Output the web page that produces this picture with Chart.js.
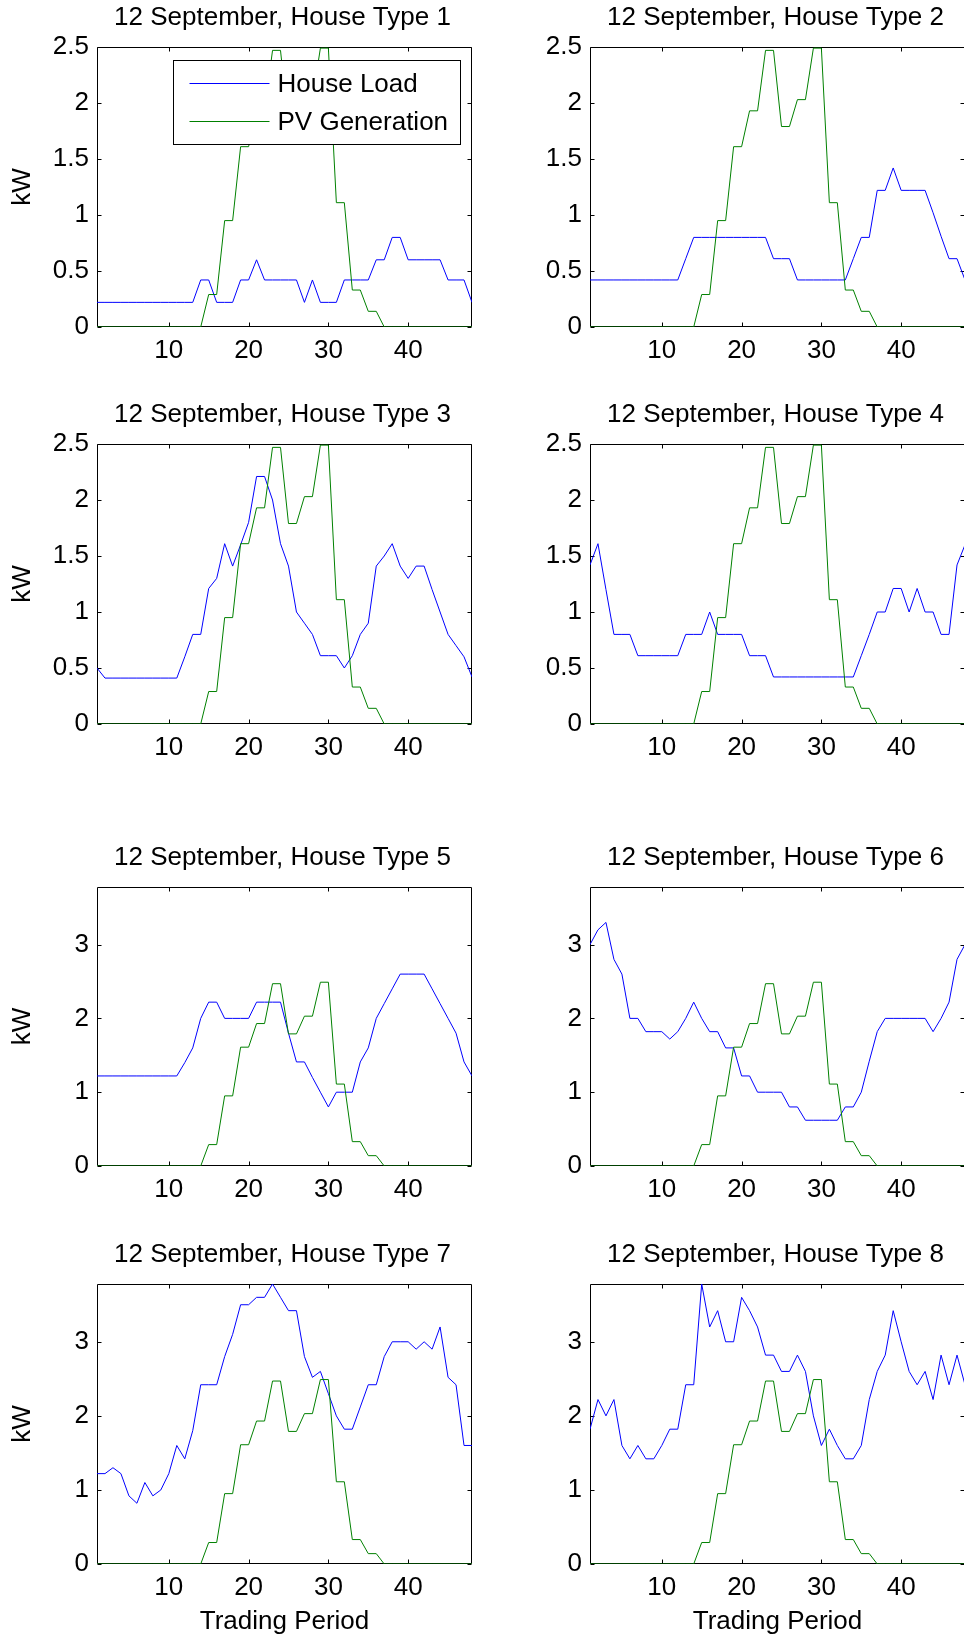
<!DOCTYPE html>
<html>
<head>
<meta charset="utf-8">
<script src="https://cdn.jsdelivr.net/npm/chart.js@4/dist/chart.umd.min.js"></script>
<style>
html, body { margin: 0; padding: 0; background: #fff; overflow: hidden; }
#wrap { position: relative; width: 964px; height: 1638px; overflow: hidden; background: #fff; }
#wrap canvas { position: absolute; }
</style>
</head>
<body>
<div id="wrap"></div>
<script>
// ---------------- DATA ----------------
const tradingPeriods = [1,2,3,4,5,6,7,8,9,10,11,12,13,14,15,16,17,18,19,20,21,22,23,24,
  25,26,27,28,29,30,31,32,33,34,35,36,37,38,39,40,41,42,43,44,45,46,47,48];

const pvGeneration = [0,0,0,0,0,0,0,0,0,0,0,0,0,0,0.29,0.29,0.95,0.95,1.61,1.61,1.93,1.93,2.47,2.47,
  1.79,1.79,2.03,2.03,2.49,2.49,1.11,1.11,0.33,0.33,0.14,0.14,0,0,0,0,0,0,0,0,0,0,0,0];

const houseLoad1 = [0.22,0.22,0.22,0.22,0.22,0.22,0.22,0.22,0.22,0.22,0.22,0.22,0.22,0.42,0.42,0.22,0.22,0.22,0.42,0.42,0.6,0.42,0.42,0.42,
  0.42,0.42,0.22,0.42,0.22,0.22,0.22,0.42,0.42,0.42,0.42,0.6,0.6,0.8,0.8,0.6,0.6,0.6,0.6,0.6,0.42,0.42,0.42,0.22];
const houseLoad2 = [0.42,0.42,0.42,0.42,0.42,0.42,0.42,0.42,0.42,0.42,0.42,0.42,0.61,0.8,0.8,0.8,0.8,0.8,0.8,0.8,0.8,0.8,0.8,0.61,
  0.61,0.61,0.42,0.42,0.42,0.42,0.42,0.42,0.42,0.61,0.8,0.8,1.22,1.22,1.42,1.22,1.22,1.22,1.22,1.02,0.81,0.61,0.61,0.42];
const houseLoad3 = [0.5,0.41,0.41,0.41,0.41,0.41,0.41,0.41,0.41,0.41,0.41,0.6,0.8,0.8,1.21,1.3,1.61,1.41,1.6,1.8,2.21,2.21,2.0,1.61,
  1.41,1.0,0.9,0.8,0.61,0.61,0.61,0.5,0.61,0.8,0.9,1.41,1.5,1.61,1.41,1.3,1.41,1.41,1.2,1.0,0.8,0.7,0.6,0.42];
const houseLoad4 = [1.42,1.61,1.2,0.8,0.8,0.8,0.61,0.61,0.61,0.61,0.61,0.61,0.8,0.8,0.8,1.0,0.8,0.8,0.8,0.8,0.61,0.61,0.61,0.42,
  0.42,0.42,0.42,0.42,0.42,0.42,0.42,0.42,0.42,0.42,0.61,0.8,1.0,1.0,1.21,1.21,1.0,1.21,1.0,1.0,0.8,0.8,1.42,1.6];
const houseLoad5 = [1.22,1.22,1.22,1.22,1.22,1.22,1.22,1.22,1.22,1.22,1.22,1.4,1.6,2.0,2.22,2.22,2.0,2.0,2.0,2.0,2.22,2.22,2.22,2.22,
  1.8,1.41,1.41,1.2,1.0,0.8,1.0,1.0,1.0,1.41,1.6,2.0,2.2,2.4,2.6,2.6,2.6,2.6,2.4,2.2,2.0,1.8,1.41,1.22];
const houseLoad6 = [3.0,3.2,3.3,2.8,2.6,2.0,2.0,1.82,1.82,1.82,1.72,1.82,2.0,2.22,2.0,1.82,1.82,1.6,1.6,1.22,1.22,1.0,1.0,1.0,
  1.0,0.8,0.8,0.62,0.62,0.62,0.62,0.62,0.8,0.8,1.0,1.42,1.82,2.0,2.0,2.0,2.0,2.0,2.0,1.82,2.0,2.22,2.8,3.0];
const houseLoad7 = [1.22,1.22,1.3,1.22,0.92,0.82,1.1,0.92,1.0,1.22,1.6,1.42,1.8,2.42,2.42,2.42,2.8,3.1,3.5,3.5,3.6,3.6,3.78,3.6,
  3.42,3.42,2.8,2.52,2.6,2.3,2.0,1.82,1.82,2.12,2.42,2.42,2.8,3.0,3.0,3.0,2.9,3.0,2.9,3.2,2.52,2.42,1.6,1.6];
const houseLoad8 = [1.82,2.22,2.0,2.22,1.6,1.42,1.6,1.42,1.42,1.6,1.82,1.82,2.42,2.42,3.78,3.2,3.42,3.0,3.0,3.6,3.42,3.2,2.82,2.82,
  2.6,2.6,2.82,2.6,2.0,1.6,1.82,1.6,1.42,1.42,1.6,2.22,2.6,2.82,3.42,3.0,2.6,2.42,2.6,2.22,2.82,2.42,2.82,2.42];

const houseLoads = [houseLoad1, houseLoad2, houseLoad3, houseLoad4, houseLoad5, houseLoad6, houseLoad7, houseLoad8];
const panelTitles = ['12 September, House Type 1','12 September, House Type 2','12 September, House Type 3','12 September, House Type 4',
  '12 September, House Type 5','12 September, House Type 6','12 September, House Type 7','12 September, House Type 8'];
const seriesLabels = ['House Load', 'PV Generation'];
const xTickValues = [10, 20, 30, 40];
const yTicksLow = [0, 0.5, 1, 1.5, 2, 2.5];
const yTicksHigh = [0, 1, 2, 3];
const xLimits = [1, 48];
const yMaxLow = 2.5;
const yMaxHigh = 3.78;
const yAxisLabel = 'kW';
const xAxisLabel = 'Trading Period';

// ---------------- LAYOUT ----------------
const colLeft = [97, 590];
const rowTop = [47, 444, 887, 1284];
const rowH = [280, 280, 279, 280];
const plotW = 375;
const yAxisW = 97;
const rightAxisW = 93;
const titleBlock = 46;
const FAMILY = '"Liberation Sans", Arial, Helvetica, sans-serif';
const FS = 26;
const TICK_LEN = 4;

Chart.defaults.font.family = FAMILY;
Chart.defaults.color = '#000';

const matlabBox = {
  id: 'matlabBox',
  beforeDatasetsDraw(chart) {
    const {ctx, chartArea: a, scales: {x, y}} = chart;
    const L = a.left + 0.5, R = a.right - 0.5, T = a.top + 0.5, B = a.bottom - 0.5;
    ctx.save();
    ctx.strokeStyle = '#000';
    ctx.lineWidth = 1;
    ctx.beginPath();
    ctx.rect(L, T, R - L, B - T);
    x.ticks.forEach(t => {
      const px = Math.round(x.getPixelForValue(t.value)) + 0.5;
      ctx.moveTo(px, B); ctx.lineTo(px, B - TICK_LEN);
      ctx.moveTo(px, T); ctx.lineTo(px, T + TICK_LEN);
    });
    y.ticks.forEach(t => {
      const py = Math.round(y.getPixelForValue(t.value)) + 0.5;
      ctx.moveTo(L, py); ctx.lineTo(L + TICK_LEN, py);
      ctx.moveTo(R, py); ctx.lineTo(R - TICK_LEN, py);
    });
    ctx.stroke();
    ctx.restore();
  }
};

const boxLegend = {
  id: 'boxLegend',
  afterDatasetsDraw(chart, args, opts) {
    if (!opts.display) return;
    const {ctx, chartArea: a} = chart;
    const bx = Math.round(a.left + 76) + 0.5, by = Math.round(a.top + 13) + 0.5;
    const bw = 287, bh = 84;
    ctx.save();
    ctx.fillStyle = '#fff';
    ctx.fillRect(bx, by, bw, bh);
    ctx.strokeStyle = '#000';
    ctx.lineWidth = 1;
    ctx.strokeRect(bx, by, bw, bh);
    ctx.font = 'normal ' + FS + 'px ' + FAMILY;
    ctx.textBaseline = 'middle';
    ctx.textAlign = 'left';
    chart.data.datasets.forEach((ds, i) => {
      const ly = Math.round(by + 22 + i * 38) + 0.5;
      ctx.strokeStyle = ds.borderColor;
      ctx.beginPath();
      ctx.moveTo(bx + 16, ly); ctx.lineTo(bx + 96, ly);
      ctx.stroke();
      ctx.fillStyle = '#000';
      ctx.fillText(ds.label, bx + 104, ly + 1);
    });
    ctx.restore();
  }
};

const wrap = document.getElementById('wrap');

function makePanel(i) {
  const col = i % 2, row = Math.floor(i / 2);
  const plotLeft = colLeft[col], plotTop = rowTop[row], plotH = rowH[row];
  const lastRow = row === 3;
  const xAxisH = lastRow ? 75 : 40;
  const cw = yAxisW + plotW + rightAxisW, ch = titleBlock + plotH + xAxisH;
  const canvas = document.createElement('canvas');
  canvas.width = cw; canvas.height = ch;
  canvas.style.left = (plotLeft - yAxisW) + 'px';
  canvas.style.top = (plotTop - titleBlock) + 'px';
  canvas.style.width = cw + 'px';
  canvas.style.height = ch + 'px';
  wrap.appendChild(canvas);

  const high = row >= 2;
  const yTicks = high ? yTicksHigh : yTicksLow;
  const load = houseLoads[i];

  new Chart(canvas, {
    type: 'line',
    data: {
      datasets: [
        { label: seriesLabels[0], data: tradingPeriods.map((p, k) => ({x: p, y: load[k]})),
          borderColor: '#0000ff', borderWidth: 1, pointRadius: 0, tension: 0, order: 1 },
        { label: seriesLabels[1], data: tradingPeriods.map((p, k) => ({x: p, y: pvGeneration[k]})),
          borderColor: '#008000', borderWidth: 1, pointRadius: 0, tension: 0, order: 0 }
      ]
    },
    options: {
      responsive: false,
      devicePixelRatio: 1,
      animation: false,
      events: [],
      layout: { padding: 0 },
      plugins: {
        legend: { display: false },
        tooltip: { enabled: false },
        title: {
          display: true, text: panelTitles[i], color: '#000',
          font: { family: FAMILY, size: FS, weight: 'normal', lineHeight: '30px' },
          padding: { top: 2, bottom: 14 }
        },
        boxLegend: { display: i === 0 }
      },
      scales: {
        x: {
          type: 'linear', min: xLimits[0], max: xLimits[1],
          afterBuildTicks: s => { s.ticks = xTickValues.map(v => ({value: v})); },
          afterFit: s => { s.height = xAxisH; },
          ticks: { autoSkip: false, maxRotation: 0, padding: 8, color: '#000',
                   font: { family: FAMILY, size: FS }, callback: v => String(v) },
          grid: { display: false, drawTicks: false },
          border: { display: false },
          title: { display: lastRow, text: xAxisLabel, color: '#000',
                   font: { family: FAMILY, size: FS, lineHeight: 1.2 }, padding: { top: 0, bottom: 2 } }
        },
        y: {
          type: 'linear', position: 'left', min: 0, max: high ? yMaxHigh : yMaxLow,
          afterBuildTicks: s => { s.ticks = yTicks.map(v => ({value: v})); },
          afterFit: s => { s.width = yAxisW; },
          ticks: { autoSkip: false, padding: 8, color: '#000',
                   font: { family: FAMILY, size: FS }, callback: v => String(v) },
          grid: { display: false, drawTicks: false },
          border: { display: false },
          title: { display: col === 0, text: yAxisLabel, color: '#000',
                   font: { family: FAMILY, size: FS, lineHeight: 1.2 }, padding: { top: 7, bottom: 0 } }
        },
        yRight: {
          type: 'linear', position: 'right', display: true, min: 0, max: 1,
          afterFit: s => { s.width = rightAxisW; },
          ticks: { display: false },
          grid: { display: false, drawTicks: false },
          border: { display: false },
          title: { display: false }
        }
      }
    },
    plugins: [matlabBox, boxLegend]
  });
}

for (let i = 0; i < 8; i++) makePanel(i);
</script>
</body>
</html>
